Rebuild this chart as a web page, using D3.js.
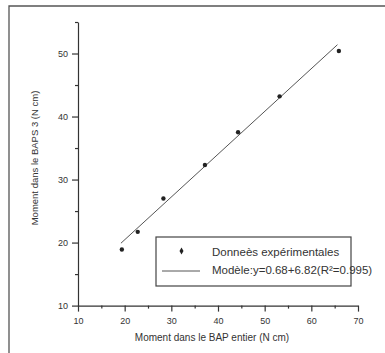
<!DOCTYPE html>
<html>
<head>
<meta charset="utf-8">
<script src="https://cdn.jsdelivr.net/npm/d3@7"></script>
<style>
  html, body { margin: 0; padding: 0; background: #fff; }
  svg { display: block; }
  .axis path, .axis line { stroke: #333; stroke-width: 1.2; }
  .axis text { font-family: "Liberation Sans", Arial, sans-serif; font-size: 9px; fill: #333; }
</style>
</head>
<body>
<div id="chart"></div>
<script>
// Data
const xMeasured = [19.4, 22.8, 28.3, 37.2, 44.3, 53.2, 65.9];
const yMeasured = [18.9, 21.7, 27.0, 32.3, 37.5, 43.2, 50.4];
const fitX = [19.2, 65.6];
const fitY = [19.9, 51.4];
const xTicks = [10, 20, 30, 40, 50, 60, 70];
const xMinor = [15, 25, 35, 45, 55, 65];
const yTicks = [10, 20, 30, 40, 50];
const yMinor = [15, 25, 35, 45, 55];
const legendLabels = ["Donneès expérimentales", "Modèle:y=0.68+6.82(R²=0.995)"];

const width = 385,
      height = 353;

const svg = d3.select("#chart").append("svg")
    .attr("width", width)
    .attr("height", height);

// Scanned page frame
svg.append("path")
    .attr("d", "M9,353 V6 H385")
    .attr("fill", "none")
    .attr("stroke", "#555")
    .attr("stroke-width", 1.3);

const x = d3.scaleLinear().domain([10, 70]).range([78, 358]);
const y = d3.scaleLinear().domain([10, 55]).range([305.6, 22]);

// Axes
svg.append("g")
    .attr("class", "axis")
    .attr("transform", `translate(0,${y(10)})`)
    .call(d3.axisBottom(x).tickValues(xTicks).tickSize(6).tickSizeOuter(0).tickPadding(6));
svg.append("g")
    .attr("class", "axis")
    .attr("transform", `translate(0,${y(10)})`)
    .call(d3.axisBottom(x).tickValues(xMinor).tickSize(3).tickFormat(""))
    .select(".domain").remove();

svg.append("g")
    .attr("class", "axis")
    .attr("transform", `translate(${x(10)},0)`)
    .call(d3.axisLeft(y).tickValues(yTicks).tickSize(6).tickSizeOuter(0).tickPadding(4));
svg.append("g")
    .attr("class", "axis")
    .attr("transform", `translate(${x(10)},0)`)
    .call(d3.axisLeft(y).tickValues(yMinor).tickSize(3).tickFormat(""))
    .select(".domain").remove();

// Axis titles
svg.append("text")
    .attr("x", 212)
    .attr("y", 341)
    .attr("text-anchor", "middle")
    .style("font-family", "Liberation Sans, Arial, sans-serif")
    .style("font-size", "10px")
    .style("fill", "#333")
    .text("Moment dans le BAP entier (N cm)");

svg.append("text")
    .attr("transform", "translate(38,158) rotate(-90)")
    .attr("text-anchor", "middle")
    .style("font-family", "Liberation Sans, Arial, sans-serif")
    .style("font-size", "9.5px")
    .style("fill", "#333")
    .text("Moment dans le BAPS 3  (N cm)");

// Fitted line
const line = d3.line()
    .x(d => x(d[0]))
    .y(d => y(d[1]));
svg.append("path")
    .datum(fitX.map((d, i) => [d, fitY[i]]))
    .attr("d", line)
    .attr("fill", "none")
    .attr("stroke", "#555")
    .attr("stroke-width", 1);

// Measured points
svg.selectAll(".pt")
    .data(xMeasured.map((d, i) => [d, yMeasured[i]]))
    .enter().append("circle")
    .attr("class", "pt")
    .attr("cx", d => x(d[0]))
    .attr("cy", d => y(d[1]))
    .attr("r", 2.2)
    .attr("fill", "#222");

// Legend
const diamond = d3.symbol().type(d3.symbolDiamond).size(14);
const legend = svg.append("g");
legend.append("rect")
    .attr("x", 156)
    .attr("y", 237)
    .attr("width", 195)
    .attr("height", 49)
    .attr("fill", "#fff")
    .attr("stroke", "#444")
    .attr("stroke-width", 1.2);
legend.append("path")
    .attr("d", diamond)
    .attr("transform", "translate(181.5,251)")
    .attr("fill", "#222");
legend.append("line")
    .attr("x1", 162).attr("x2", 200)
    .attr("y1", 271).attr("y2", 271)
    .attr("stroke", "#555");
legend.selectAll(".lbl")
    .data(legendLabels)
    .enter().append("text")
    .attr("class", "lbl")
    .attr("x", 212)
    .attr("y", (d, i) => 255.5 + i * 18)
    .style("font-family", "Liberation Sans Narrow, Arial Narrow, sans-serif")
    .style("font-size", "11.5px")
    .style("fill", "#333")
    .text(d => d);
</script>
</body>
</html>
